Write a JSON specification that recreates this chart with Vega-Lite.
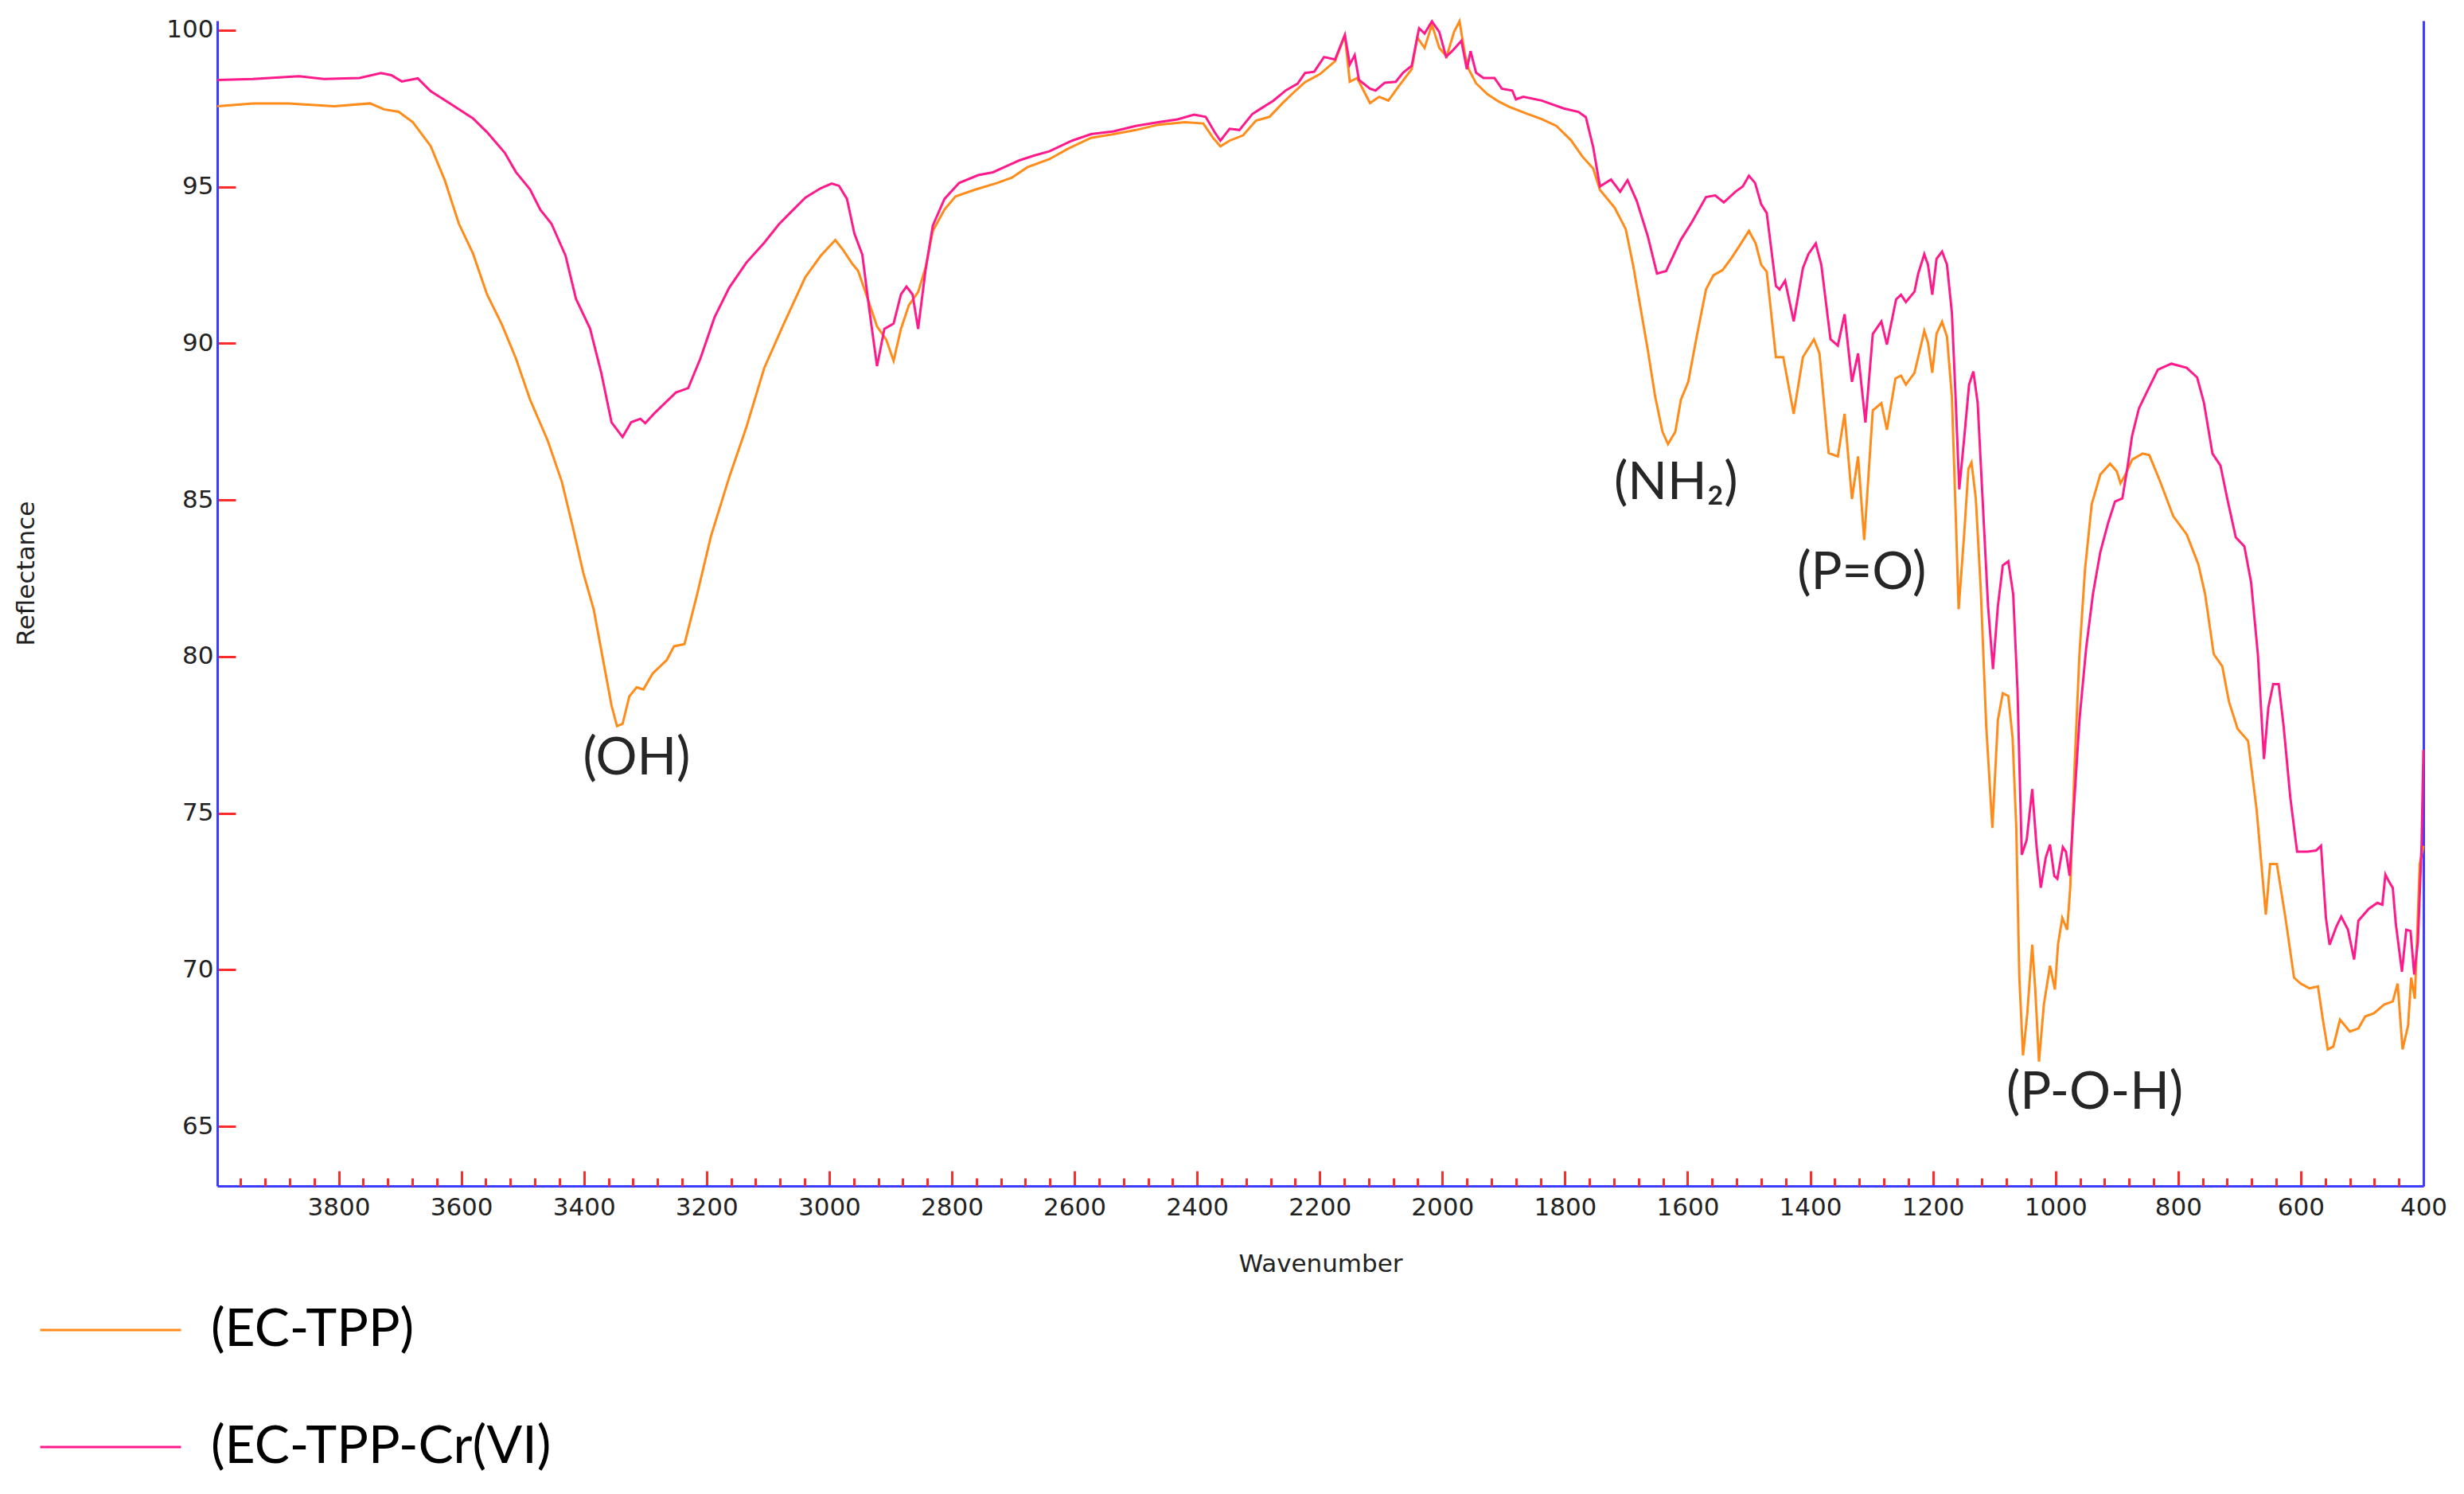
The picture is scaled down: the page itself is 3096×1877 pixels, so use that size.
{
  "$schema": "https://vega.github.io/schema/vega-lite/v6.json",
  "width": 2772,
  "height": 1464,
  "autosize": {"type": "none"},
  "padding": {"left": 273, "top": 26, "right": 51, "bottom": 387},
  "background": "white",
  "config": {"view": {"stroke": null}},
  "datasets": {
    "notes": [
      {"wavenumber": 3314, "reflectance": 76.75, "label": "(OH)"},
      {"wavenumber": 1619, "reflectance": 85.54, "label": "(NH₂)"},
      {"wavenumber": 1316, "reflectance": 82.67, "label": "(P=O)"},
      {"wavenumber": 936, "reflectance": 66.08, "label": "(P-O-H)"}
    ],
    "spectra": [
      {"sample": "(EC-TPP)", "wavenumber": 3998, "reflectance": 97.57},
      {"sample": "(EC-TPP)", "wavenumber": 3940, "reflectance": 97.66},
      {"sample": "(EC-TPP)", "wavenumber": 3882, "reflectance": 97.66},
      {"sample": "(EC-TPP)", "wavenumber": 3807, "reflectance": 97.57},
      {"sample": "(EC-TPP)", "wavenumber": 3749, "reflectance": 97.66},
      {"sample": "(EC-TPP)", "wavenumber": 3726, "reflectance": 97.47},
      {"sample": "(EC-TPP)", "wavenumber": 3702, "reflectance": 97.39},
      {"sample": "(EC-TPP)", "wavenumber": 3679, "reflectance": 97.06},
      {"sample": "(EC-TPP)", "wavenumber": 3650, "reflectance": 96.30},
      {"sample": "(EC-TPP)", "wavenumber": 3627, "reflectance": 95.21},
      {"sample": "(EC-TPP)", "wavenumber": 3604, "reflectance": 93.82},
      {"sample": "(EC-TPP)", "wavenumber": 3581, "reflectance": 92.87},
      {"sample": "(EC-TPP)", "wavenumber": 3558, "reflectance": 91.56},
      {"sample": "(EC-TPP)", "wavenumber": 3534, "reflectance": 90.61},
      {"sample": "(EC-TPP)", "wavenumber": 3511, "reflectance": 89.52},
      {"sample": "(EC-TPP)", "wavenumber": 3488, "reflectance": 88.21},
      {"sample": "(EC-TPP)", "wavenumber": 3459, "reflectance": 86.89},
      {"sample": "(EC-TPP)", "wavenumber": 3436, "reflectance": 85.58},
      {"sample": "(EC-TPP)", "wavenumber": 3418, "reflectance": 84.12},
      {"sample": "(EC-TPP)", "wavenumber": 3401, "reflectance": 82.67},
      {"sample": "(EC-TPP)", "wavenumber": 3384, "reflectance": 81.50},
      {"sample": "(EC-TPP)", "wavenumber": 3366, "reflectance": 79.60},
      {"sample": "(EC-TPP)", "wavenumber": 3355, "reflectance": 78.44},
      {"sample": "(EC-TPP)", "wavenumber": 3346, "reflectance": 77.78},
      {"sample": "(EC-TPP)", "wavenumber": 3337, "reflectance": 77.85},
      {"sample": "(EC-TPP)", "wavenumber": 3326, "reflectance": 78.73},
      {"sample": "(EC-TPP)", "wavenumber": 3314, "reflectance": 79.02},
      {"sample": "(EC-TPP)", "wavenumber": 3303, "reflectance": 78.95},
      {"sample": "(EC-TPP)", "wavenumber": 3288, "reflectance": 79.46},
      {"sample": "(EC-TPP)", "wavenumber": 3265, "reflectance": 79.89},
      {"sample": "(EC-TPP)", "wavenumber": 3253, "reflectance": 80.33},
      {"sample": "(EC-TPP)", "wavenumber": 3236, "reflectance": 80.40},
      {"sample": "(EC-TPP)", "wavenumber": 3216, "reflectance": 81.94},
      {"sample": "(EC-TPP)", "wavenumber": 3193, "reflectance": 83.83},
      {"sample": "(EC-TPP)", "wavenumber": 3163, "reflectance": 85.73},
      {"sample": "(EC-TPP)", "wavenumber": 3135, "reflectance": 87.33},
      {"sample": "(EC-TPP)", "wavenumber": 3106, "reflectance": 89.21},
      {"sample": "(EC-TPP)", "wavenumber": 3076, "reflectance": 90.54},
      {"sample": "(EC-TPP)", "wavenumber": 3039, "reflectance": 92.11},
      {"sample": "(EC-TPP)", "wavenumber": 3014, "reflectance": 92.79},
      {"sample": "(EC-TPP)", "wavenumber": 2990, "reflectance": 93.30},
      {"sample": "(EC-TPP)", "wavenumber": 2978, "reflectance": 93.00},
      {"sample": "(EC-TPP)", "wavenumber": 2962, "reflectance": 92.53},
      {"sample": "(EC-TPP)", "wavenumber": 2953, "reflectance": 92.32},
      {"sample": "(EC-TPP)", "wavenumber": 2941, "reflectance": 91.64},
      {"sample": "(EC-TPP)", "wavenumber": 2922, "reflectance": 90.54},
      {"sample": "(EC-TPP)", "wavenumber": 2907, "reflectance": 90.12},
      {"sample": "(EC-TPP)", "wavenumber": 2895, "reflectance": 89.44},
      {"sample": "(EC-TPP)", "wavenumber": 2883, "reflectance": 90.46},
      {"sample": "(EC-TPP)", "wavenumber": 2870, "reflectance": 91.22},
      {"sample": "(EC-TPP)", "wavenumber": 2855, "reflectance": 91.64},
      {"sample": "(EC-TPP)", "wavenumber": 2843, "reflectance": 92.41},
      {"sample": "(EC-TPP)", "wavenumber": 2831, "reflectance": 93.59},
      {"sample": "(EC-TPP)", "wavenumber": 2812, "reflectance": 94.27},
      {"sample": "(EC-TPP)", "wavenumber": 2794, "reflectance": 94.69},
      {"sample": "(EC-TPP)", "wavenumber": 2763, "reflectance": 94.90},
      {"sample": "(EC-TPP)", "wavenumber": 2726, "reflectance": 95.12},
      {"sample": "(EC-TPP)", "wavenumber": 2702, "reflectance": 95.29},
      {"sample": "(EC-TPP)", "wavenumber": 2677, "reflectance": 95.62},
      {"sample": "(EC-TPP)", "wavenumber": 2641, "reflectance": 95.88},
      {"sample": "(EC-TPP)", "wavenumber": 2610, "reflectance": 96.22},
      {"sample": "(EC-TPP)", "wavenumber": 2573, "reflectance": 96.56},
      {"sample": "(EC-TPP)", "wavenumber": 2536, "reflectance": 96.68},
      {"sample": "(EC-TPP)", "wavenumber": 2500, "reflectance": 96.81},
      {"sample": "(EC-TPP)", "wavenumber": 2463, "reflectance": 96.98},
      {"sample": "(EC-TPP)", "wavenumber": 2420, "reflectance": 97.06},
      {"sample": "(EC-TPP)", "wavenumber": 2390, "reflectance": 97.02},
      {"sample": "(EC-TPP)", "wavenumber": 2374, "reflectance": 96.56},
      {"sample": "(EC-TPP)", "wavenumber": 2362, "reflectance": 96.29},
      {"sample": "(EC-TPP)", "wavenumber": 2347, "reflectance": 96.47},
      {"sample": "(EC-TPP)", "wavenumber": 2325, "reflectance": 96.64},
      {"sample": "(EC-TPP)", "wavenumber": 2304, "reflectance": 97.11},
      {"sample": "(EC-TPP)", "wavenumber": 2282, "reflectance": 97.23},
      {"sample": "(EC-TPP)", "wavenumber": 2261, "reflectance": 97.66},
      {"sample": "(EC-TPP)", "wavenumber": 2243, "reflectance": 98.00},
      {"sample": "(EC-TPP)", "wavenumber": 2224, "reflectance": 98.34},
      {"sample": "(EC-TPP)", "wavenumber": 2200, "reflectance": 98.59},
      {"sample": "(EC-TPP)", "wavenumber": 2175, "reflectance": 99.01},
      {"sample": "(EC-TPP)", "wavenumber": 2159, "reflectance": 99.83},
      {"sample": "(EC-TPP)", "wavenumber": 2151, "reflectance": 98.35},
      {"sample": "(EC-TPP)", "wavenumber": 2139, "reflectance": 98.47},
      {"sample": "(EC-TPP)", "wavenumber": 2118, "reflectance": 97.67},
      {"sample": "(EC-TPP)", "wavenumber": 2103, "reflectance": 97.87},
      {"sample": "(EC-TPP)", "wavenumber": 2088, "reflectance": 97.75},
      {"sample": "(EC-TPP)", "wavenumber": 2070, "reflectance": 98.24},
      {"sample": "(EC-TPP)", "wavenumber": 2050, "reflectance": 98.75},
      {"sample": "(EC-TPP)", "wavenumber": 2041, "reflectance": 99.77},
      {"sample": "(EC-TPP)", "wavenumber": 2029, "reflectance": 99.43},
      {"sample": "(EC-TPP)", "wavenumber": 2017, "reflectance": 100.17},
      {"sample": "(EC-TPP)", "wavenumber": 2005, "reflectance": 99.43},
      {"sample": "(EC-TPP)", "wavenumber": 1993, "reflectance": 99.15},
      {"sample": "(EC-TPP)", "wavenumber": 1981, "reflectance": 99.94},
      {"sample": "(EC-TPP)", "wavenumber": 1972, "reflectance": 100.28},
      {"sample": "(EC-TPP)", "wavenumber": 1963, "reflectance": 99.20},
      {"sample": "(EC-TPP)", "wavenumber": 1957, "reflectance": 98.75},
      {"sample": "(EC-TPP)", "wavenumber": 1945, "reflectance": 98.30},
      {"sample": "(EC-TPP)", "wavenumber": 1927, "reflectance": 97.96},
      {"sample": "(EC-TPP)", "wavenumber": 1909, "reflectance": 97.73},
      {"sample": "(EC-TPP)", "wavenumber": 1892, "reflectance": 97.56},
      {"sample": "(EC-TPP)", "wavenumber": 1862, "reflectance": 97.33},
      {"sample": "(EC-TPP)", "wavenumber": 1838, "reflectance": 97.16},
      {"sample": "(EC-TPP)", "wavenumber": 1814, "reflectance": 96.94},
      {"sample": "(EC-TPP)", "wavenumber": 1790, "reflectance": 96.48},
      {"sample": "(EC-TPP)", "wavenumber": 1772, "reflectance": 95.97},
      {"sample": "(EC-TPP)", "wavenumber": 1754, "reflectance": 95.58},
      {"sample": "(EC-TPP)", "wavenumber": 1743, "reflectance": 94.90},
      {"sample": "(EC-TPP)", "wavenumber": 1719, "reflectance": 94.33},
      {"sample": "(EC-TPP)", "wavenumber": 1701, "reflectance": 93.65},
      {"sample": "(EC-TPP)", "wavenumber": 1689, "reflectance": 92.51},
      {"sample": "(EC-TPP)", "wavenumber": 1677, "reflectance": 91.15},
      {"sample": "(EC-TPP)", "wavenumber": 1665, "reflectance": 89.79},
      {"sample": "(EC-TPP)", "wavenumber": 1653, "reflectance": 88.31},
      {"sample": "(EC-TPP)", "wavenumber": 1641, "reflectance": 87.18},
      {"sample": "(EC-TPP)", "wavenumber": 1632, "reflectance": 86.78},
      {"sample": "(EC-TPP)", "wavenumber": 1620, "reflectance": 87.18},
      {"sample": "(EC-TPP)", "wavenumber": 1611, "reflectance": 88.20},
      {"sample": "(EC-TPP)", "wavenumber": 1599, "reflectance": 88.77},
      {"sample": "(EC-TPP)", "wavenumber": 1585, "reflectance": 90.24},
      {"sample": "(EC-TPP)", "wavenumber": 1570, "reflectance": 91.72},
      {"sample": "(EC-TPP)", "wavenumber": 1558, "reflectance": 92.17},
      {"sample": "(EC-TPP)", "wavenumber": 1543, "reflectance": 92.34},
      {"sample": "(EC-TPP)", "wavenumber": 1528, "reflectance": 92.74},
      {"sample": "(EC-TPP)", "wavenumber": 1513, "reflectance": 93.19},
      {"sample": "(EC-TPP)", "wavenumber": 1500, "reflectance": 93.59},
      {"sample": "(EC-TPP)", "wavenumber": 1489, "reflectance": 93.19},
      {"sample": "(EC-TPP)", "wavenumber": 1480, "reflectance": 92.51},
      {"sample": "(EC-TPP)", "wavenumber": 1471, "reflectance": 92.29},
      {"sample": "(EC-TPP)", "wavenumber": 1456, "reflectance": 89.56},
      {"sample": "(EC-TPP)", "wavenumber": 1444, "reflectance": 89.56},
      {"sample": "(EC-TPP)", "wavenumber": 1427, "reflectance": 87.75},
      {"sample": "(EC-TPP)", "wavenumber": 1412, "reflectance": 89.56},
      {"sample": "(EC-TPP)", "wavenumber": 1394, "reflectance": 90.13},
      {"sample": "(EC-TPP)", "wavenumber": 1385, "reflectance": 89.68},
      {"sample": "(EC-TPP)", "wavenumber": 1370, "reflectance": 86.50},
      {"sample": "(EC-TPP)", "wavenumber": 1355, "reflectance": 86.39},
      {"sample": "(EC-TPP)", "wavenumber": 1344, "reflectance": 87.75},
      {"sample": "(EC-TPP)", "wavenumber": 1332, "reflectance": 85.03},
      {"sample": "(EC-TPP)", "wavenumber": 1322, "reflectance": 86.39},
      {"sample": "(EC-TPP)", "wavenumber": 1312, "reflectance": 83.72},
      {"sample": "(EC-TPP)", "wavenumber": 1298, "reflectance": 87.86},
      {"sample": "(EC-TPP)", "wavenumber": 1284, "reflectance": 88.09},
      {"sample": "(EC-TPP)", "wavenumber": 1275, "reflectance": 87.24},
      {"sample": "(EC-TPP)", "wavenumber": 1261, "reflectance": 88.88},
      {"sample": "(EC-TPP)", "wavenumber": 1252, "reflectance": 88.97},
      {"sample": "(EC-TPP)", "wavenumber": 1244, "reflectance": 88.68},
      {"sample": "(EC-TPP)", "wavenumber": 1230, "reflectance": 89.06},
      {"sample": "(EC-TPP)", "wavenumber": 1223, "reflectance": 89.64},
      {"sample": "(EC-TPP)", "wavenumber": 1214, "reflectance": 90.40},
      {"sample": "(EC-TPP)", "wavenumber": 1208, "reflectance": 90.02},
      {"sample": "(EC-TPP)", "wavenumber": 1201, "reflectance": 89.06},
      {"sample": "(EC-TPP)", "wavenumber": 1194, "reflectance": 90.31},
      {"sample": "(EC-TPP)", "wavenumber": 1185, "reflectance": 90.69},
      {"sample": "(EC-TPP)", "wavenumber": 1177, "reflectance": 90.21},
      {"sample": "(EC-TPP)", "wavenumber": 1169, "reflectance": 88.30},
      {"sample": "(EC-TPP)", "wavenumber": 1163, "reflectance": 84.67},
      {"sample": "(EC-TPP)", "wavenumber": 1158, "reflectance": 81.51},
      {"sample": "(EC-TPP)", "wavenumber": 1149, "reflectance": 83.90},
      {"sample": "(EC-TPP)", "wavenumber": 1142, "reflectance": 86.00},
      {"sample": "(EC-TPP)", "wavenumber": 1137, "reflectance": 86.20},
      {"sample": "(EC-TPP)", "wavenumber": 1130, "reflectance": 85.05},
      {"sample": "(EC-TPP)", "wavenumber": 1122, "reflectance": 82.18},
      {"sample": "(EC-TPP)", "wavenumber": 1113, "reflectance": 77.78},
      {"sample": "(EC-TPP)", "wavenumber": 1103, "reflectance": 74.53},
      {"sample": "(EC-TPP)", "wavenumber": 1094, "reflectance": 77.97},
      {"sample": "(EC-TPP)", "wavenumber": 1086, "reflectance": 78.83},
      {"sample": "(EC-TPP)", "wavenumber": 1077, "reflectance": 78.74},
      {"sample": "(EC-TPP)", "wavenumber": 1070, "reflectance": 77.40},
      {"sample": "(EC-TPP)", "wavenumber": 1064, "reflectance": 74.53},
      {"sample": "(EC-TPP)", "wavenumber": 1059, "reflectance": 69.75},
      {"sample": "(EC-TPP)", "wavenumber": 1053, "reflectance": 67.27},
      {"sample": "(EC-TPP)", "wavenumber": 1046, "reflectance": 68.61},
      {"sample": "(EC-TPP)", "wavenumber": 1038, "reflectance": 70.80},
      {"sample": "(EC-TPP)", "wavenumber": 1033, "reflectance": 69.37},
      {"sample": "(EC-TPP)", "wavenumber": 1027, "reflectance": 67.07},
      {"sample": "(EC-TPP)", "wavenumber": 1019, "reflectance": 68.89},
      {"sample": "(EC-TPP)", "wavenumber": 1009, "reflectance": 70.13},
      {"sample": "(EC-TPP)", "wavenumber": 1001, "reflectance": 69.37},
      {"sample": "(EC-TPP)", "wavenumber": 996, "reflectance": 70.80},
      {"sample": "(EC-TPP)", "wavenumber": 989, "reflectance": 71.66},
      {"sample": "(EC-TPP)", "wavenumber": 981, "reflectance": 71.28},
      {"sample": "(EC-TPP)", "wavenumber": 976, "reflectance": 72.62},
      {"sample": "(EC-TPP)", "wavenumber": 969, "reflectance": 76.44},
      {"sample": "(EC-TPP)", "wavenumber": 961, "reflectance": 80.08},
      {"sample": "(EC-TPP)", "wavenumber": 952, "reflectance": 82.75},
      {"sample": "(EC-TPP)", "wavenumber": 941, "reflectance": 84.86},
      {"sample": "(EC-TPP)", "wavenumber": 927, "reflectance": 85.81},
      {"sample": "(EC-TPP)", "wavenumber": 911, "reflectance": 86.16},
      {"sample": "(EC-TPP)", "wavenumber": 900, "reflectance": 85.91},
      {"sample": "(EC-TPP)", "wavenumber": 894, "reflectance": 85.53},
      {"sample": "(EC-TPP)", "wavenumber": 886, "reflectance": 85.81},
      {"sample": "(EC-TPP)", "wavenumber": 875, "reflectance": 86.29},
      {"sample": "(EC-TPP)", "wavenumber": 858, "reflectance": 86.48},
      {"sample": "(EC-TPP)", "wavenumber": 847, "reflectance": 86.43},
      {"sample": "(EC-TPP)", "wavenumber": 830, "reflectance": 85.62},
      {"sample": "(EC-TPP)", "wavenumber": 808, "reflectance": 84.48},
      {"sample": "(EC-TPP)", "wavenumber": 786, "reflectance": 83.90},
      {"sample": "(EC-TPP)", "wavenumber": 767, "reflectance": 82.94},
      {"sample": "(EC-TPP)", "wavenumber": 756, "reflectance": 81.99},
      {"sample": "(EC-TPP)", "wavenumber": 742, "reflectance": 80.08},
      {"sample": "(EC-TPP)", "wavenumber": 728, "reflectance": 79.69},
      {"sample": "(EC-TPP)", "wavenumber": 717, "reflectance": 78.55},
      {"sample": "(EC-TPP)", "wavenumber": 703, "reflectance": 77.69},
      {"sample": "(EC-TPP)", "wavenumber": 686, "reflectance": 77.31},
      {"sample": "(EC-TPP)", "wavenumber": 672, "reflectance": 75.11},
      {"sample": "(EC-TPP)", "wavenumber": 657, "reflectance": 71.76},
      {"sample": "(EC-TPP)", "wavenumber": 650, "reflectance": 73.38},
      {"sample": "(EC-TPP)", "wavenumber": 639, "reflectance": 73.38},
      {"sample": "(EC-TPP)", "wavenumber": 625, "reflectance": 71.66},
      {"sample": "(EC-TPP)", "wavenumber": 611, "reflectance": 69.75},
      {"sample": "(EC-TPP)", "wavenumber": 600, "reflectance": 69.56},
      {"sample": "(EC-TPP)", "wavenumber": 586, "reflectance": 69.41},
      {"sample": "(EC-TPP)", "wavenumber": 572, "reflectance": 69.47},
      {"sample": "(EC-TPP)", "wavenumber": 564, "reflectance": 68.41},
      {"sample": "(EC-TPP)", "wavenumber": 556, "reflectance": 67.46},
      {"sample": "(EC-TPP)", "wavenumber": 547, "reflectance": 67.55},
      {"sample": "(EC-TPP)", "wavenumber": 536, "reflectance": 68.41},
      {"sample": "(EC-TPP)", "wavenumber": 520, "reflectance": 68.03},
      {"sample": "(EC-TPP)", "wavenumber": 506, "reflectance": 68.13},
      {"sample": "(EC-TPP)", "wavenumber": 495, "reflectance": 68.51},
      {"sample": "(EC-TPP)", "wavenumber": 481, "reflectance": 68.61},
      {"sample": "(EC-TPP)", "wavenumber": 464, "reflectance": 68.89},
      {"sample": "(EC-TPP)", "wavenumber": 450, "reflectance": 68.99},
      {"sample": "(EC-TPP)", "wavenumber": 442, "reflectance": 69.56},
      {"sample": "(EC-TPP)", "wavenumber": 434, "reflectance": 67.46},
      {"sample": "(EC-TPP)", "wavenumber": 425, "reflectance": 68.22},
      {"sample": "(EC-TPP)", "wavenumber": 420, "reflectance": 69.75},
      {"sample": "(EC-TPP)", "wavenumber": 414, "reflectance": 69.08},
      {"sample": "(EC-TPP)", "wavenumber": 406, "reflectance": 73.38},
      {"sample": "(EC-TPP)", "wavenumber": 400, "reflectance": 73.96},
      {"sample": "(EC-TPP-Cr(VI)", "wavenumber": 3998, "reflectance": 98.41},
      {"sample": "(EC-TPP-Cr(VI)", "wavenumber": 3940, "reflectance": 98.44},
      {"sample": "(EC-TPP-Cr(VI)", "wavenumber": 3865, "reflectance": 98.53},
      {"sample": "(EC-TPP-Cr(VI)", "wavenumber": 3824, "reflectance": 98.44},
      {"sample": "(EC-TPP-Cr(VI)", "wavenumber": 3766, "reflectance": 98.47},
      {"sample": "(EC-TPP-Cr(VI)", "wavenumber": 3731, "reflectance": 98.63},
      {"sample": "(EC-TPP-Cr(VI)", "wavenumber": 3714, "reflectance": 98.56},
      {"sample": "(EC-TPP-Cr(VI)", "wavenumber": 3697, "reflectance": 98.36},
      {"sample": "(EC-TPP-Cr(VI)", "wavenumber": 3671, "reflectance": 98.46},
      {"sample": "(EC-TPP-Cr(VI)", "wavenumber": 3650, "reflectance": 98.05},
      {"sample": "(EC-TPP-Cr(VI)", "wavenumber": 3621, "reflectance": 97.69},
      {"sample": "(EC-TPP-Cr(VI)", "wavenumber": 3581, "reflectance": 97.18},
      {"sample": "(EC-TPP-Cr(VI)", "wavenumber": 3558, "reflectance": 96.74},
      {"sample": "(EC-TPP-Cr(VI)", "wavenumber": 3529, "reflectance": 96.08},
      {"sample": "(EC-TPP-Cr(VI)", "wavenumber": 3511, "reflectance": 95.47},
      {"sample": "(EC-TPP-Cr(VI)", "wavenumber": 3488, "reflectance": 94.92},
      {"sample": "(EC-TPP-Cr(VI)", "wavenumber": 3471, "reflectance": 94.26},
      {"sample": "(EC-TPP-Cr(VI)", "wavenumber": 3453, "reflectance": 93.82},
      {"sample": "(EC-TPP-Cr(VI)", "wavenumber": 3430, "reflectance": 92.80},
      {"sample": "(EC-TPP-Cr(VI)", "wavenumber": 3413, "reflectance": 91.42},
      {"sample": "(EC-TPP-Cr(VI)", "wavenumber": 3390, "reflectance": 90.47},
      {"sample": "(EC-TPP-Cr(VI)", "wavenumber": 3372, "reflectance": 89.08},
      {"sample": "(EC-TPP-Cr(VI)", "wavenumber": 3355, "reflectance": 87.48},
      {"sample": "(EC-TPP-Cr(VI)", "wavenumber": 3337, "reflectance": 87.01},
      {"sample": "(EC-TPP-Cr(VI)", "wavenumber": 3323, "reflectance": 87.48},
      {"sample": "(EC-TPP-Cr(VI)", "wavenumber": 3308, "reflectance": 87.59},
      {"sample": "(EC-TPP-Cr(VI)", "wavenumber": 3300, "reflectance": 87.45},
      {"sample": "(EC-TPP-Cr(VI)", "wavenumber": 3285, "reflectance": 87.77},
      {"sample": "(EC-TPP-Cr(VI)", "wavenumber": 3250, "reflectance": 88.43},
      {"sample": "(EC-TPP-Cr(VI)", "wavenumber": 3230, "reflectance": 88.57},
      {"sample": "(EC-TPP-Cr(VI)", "wavenumber": 3210, "reflectance": 89.52},
      {"sample": "(EC-TPP-Cr(VI)", "wavenumber": 3187, "reflectance": 90.83},
      {"sample": "(EC-TPP-Cr(VI)", "wavenumber": 3163, "reflectance": 91.78},
      {"sample": "(EC-TPP-Cr(VI)", "wavenumber": 3135, "reflectance": 92.58},
      {"sample": "(EC-TPP-Cr(VI)", "wavenumber": 3106, "reflectance": 93.21},
      {"sample": "(EC-TPP-Cr(VI)", "wavenumber": 3082, "reflectance": 93.80},
      {"sample": "(EC-TPP-Cr(VI)", "wavenumber": 3063, "reflectance": 94.18},
      {"sample": "(EC-TPP-Cr(VI)", "wavenumber": 3039, "reflectance": 94.65},
      {"sample": "(EC-TPP-Cr(VI)", "wavenumber": 3014, "reflectance": 94.95},
      {"sample": "(EC-TPP-Cr(VI)", "wavenumber": 2996, "reflectance": 95.10},
      {"sample": "(EC-TPP-Cr(VI)", "wavenumber": 2984, "reflectance": 95.03},
      {"sample": "(EC-TPP-Cr(VI)", "wavenumber": 2971, "reflectance": 94.61},
      {"sample": "(EC-TPP-Cr(VI)", "wavenumber": 2959, "reflectance": 93.51},
      {"sample": "(EC-TPP-Cr(VI)", "wavenumber": 2946, "reflectance": 92.83},
      {"sample": "(EC-TPP-Cr(VI)", "wavenumber": 2935, "reflectance": 91.14},
      {"sample": "(EC-TPP-Cr(VI)", "wavenumber": 2922, "reflectance": 89.27},
      {"sample": "(EC-TPP-Cr(VI)", "wavenumber": 2910, "reflectance": 90.46},
      {"sample": "(EC-TPP-Cr(VI)", "wavenumber": 2895, "reflectance": 90.63},
      {"sample": "(EC-TPP-Cr(VI)", "wavenumber": 2883, "reflectance": 91.56},
      {"sample": "(EC-TPP-Cr(VI)", "wavenumber": 2874, "reflectance": 91.81},
      {"sample": "(EC-TPP-Cr(VI)", "wavenumber": 2864, "reflectance": 91.56},
      {"sample": "(EC-TPP-Cr(VI)", "wavenumber": 2855, "reflectance": 90.46},
      {"sample": "(EC-TPP-Cr(VI)", "wavenumber": 2843, "reflectance": 92.32},
      {"sample": "(EC-TPP-Cr(VI)", "wavenumber": 2831, "reflectance": 93.76},
      {"sample": "(EC-TPP-Cr(VI)", "wavenumber": 2812, "reflectance": 94.61},
      {"sample": "(EC-TPP-Cr(VI)", "wavenumber": 2788, "reflectance": 95.12},
      {"sample": "(EC-TPP-Cr(VI)", "wavenumber": 2757, "reflectance": 95.37},
      {"sample": "(EC-TPP-Cr(VI)", "wavenumber": 2733, "reflectance": 95.46},
      {"sample": "(EC-TPP-Cr(VI)", "wavenumber": 2690, "reflectance": 95.84},
      {"sample": "(EC-TPP-Cr(VI)", "wavenumber": 2665, "reflectance": 96.00},
      {"sample": "(EC-TPP-Cr(VI)", "wavenumber": 2641, "reflectance": 96.13},
      {"sample": "(EC-TPP-Cr(VI)", "wavenumber": 2604, "reflectance": 96.47},
      {"sample": "(EC-TPP-Cr(VI)", "wavenumber": 2573, "reflectance": 96.68},
      {"sample": "(EC-TPP-Cr(VI)", "wavenumber": 2536, "reflectance": 96.77},
      {"sample": "(EC-TPP-Cr(VI)", "wavenumber": 2500, "reflectance": 96.94},
      {"sample": "(EC-TPP-Cr(VI)", "wavenumber": 2463, "reflectance": 97.06},
      {"sample": "(EC-TPP-Cr(VI)", "wavenumber": 2432, "reflectance": 97.15},
      {"sample": "(EC-TPP-Cr(VI)", "wavenumber": 2405, "reflectance": 97.30},
      {"sample": "(EC-TPP-Cr(VI)", "wavenumber": 2386, "reflectance": 97.23},
      {"sample": "(EC-TPP-Cr(VI)", "wavenumber": 2371, "reflectance": 96.73},
      {"sample": "(EC-TPP-Cr(VI)", "wavenumber": 2362, "reflectance": 96.47},
      {"sample": "(EC-TPP-Cr(VI)", "wavenumber": 2347, "reflectance": 96.85},
      {"sample": "(EC-TPP-Cr(VI)", "wavenumber": 2331, "reflectance": 96.81},
      {"sample": "(EC-TPP-Cr(VI)", "wavenumber": 2310, "reflectance": 97.32},
      {"sample": "(EC-TPP-Cr(VI)", "wavenumber": 2298, "reflectance": 97.47},
      {"sample": "(EC-TPP-Cr(VI)", "wavenumber": 2276, "reflectance": 97.74},
      {"sample": "(EC-TPP-Cr(VI)", "wavenumber": 2255, "reflectance": 98.08},
      {"sample": "(EC-TPP-Cr(VI)", "wavenumber": 2236, "reflectance": 98.29},
      {"sample": "(EC-TPP-Cr(VI)", "wavenumber": 2224, "reflectance": 98.63},
      {"sample": "(EC-TPP-Cr(VI)", "wavenumber": 2209, "reflectance": 98.67},
      {"sample": "(EC-TPP-Cr(VI)", "wavenumber": 2193, "reflectance": 99.14},
      {"sample": "(EC-TPP-Cr(VI)", "wavenumber": 2175, "reflectance": 99.06},
      {"sample": "(EC-TPP-Cr(VI)", "wavenumber": 2159, "reflectance": 99.85},
      {"sample": "(EC-TPP-Cr(VI)", "wavenumber": 2151, "reflectance": 98.90},
      {"sample": "(EC-TPP-Cr(VI)", "wavenumber": 2143, "reflectance": 99.20},
      {"sample": "(EC-TPP-Cr(VI)", "wavenumber": 2136, "reflectance": 98.41},
      {"sample": "(EC-TPP-Cr(VI)", "wavenumber": 2118, "reflectance": 98.13},
      {"sample": "(EC-TPP-Cr(VI)", "wavenumber": 2109, "reflectance": 98.07},
      {"sample": "(EC-TPP-Cr(VI)", "wavenumber": 2094, "reflectance": 98.32},
      {"sample": "(EC-TPP-Cr(VI)", "wavenumber": 2076, "reflectance": 98.35},
      {"sample": "(EC-TPP-Cr(VI)", "wavenumber": 2064, "reflectance": 98.64},
      {"sample": "(EC-TPP-Cr(VI)", "wavenumber": 2050, "reflectance": 98.86},
      {"sample": "(EC-TPP-Cr(VI)", "wavenumber": 2038, "reflectance": 100.06},
      {"sample": "(EC-TPP-Cr(VI)", "wavenumber": 2029, "reflectance": 99.89},
      {"sample": "(EC-TPP-Cr(VI)", "wavenumber": 2017, "reflectance": 100.28},
      {"sample": "(EC-TPP-Cr(VI)", "wavenumber": 2005, "reflectance": 99.94},
      {"sample": "(EC-TPP-Cr(VI)", "wavenumber": 1994, "reflectance": 99.15},
      {"sample": "(EC-TPP-Cr(VI)", "wavenumber": 1984, "reflectance": 99.33},
      {"sample": "(EC-TPP-Cr(VI)", "wavenumber": 1969, "reflectance": 99.66},
      {"sample": "(EC-TPP-Cr(VI)", "wavenumber": 1960, "reflectance": 98.75},
      {"sample": "(EC-TPP-Cr(VI)", "wavenumber": 1954, "reflectance": 99.33},
      {"sample": "(EC-TPP-Cr(VI)", "wavenumber": 1945, "reflectance": 98.64},
      {"sample": "(EC-TPP-Cr(VI)", "wavenumber": 1933, "reflectance": 98.47},
      {"sample": "(EC-TPP-Cr(VI)", "wavenumber": 1915, "reflectance": 98.47},
      {"sample": "(EC-TPP-Cr(VI)", "wavenumber": 1903, "reflectance": 98.13},
      {"sample": "(EC-TPP-Cr(VI)", "wavenumber": 1886, "reflectance": 98.07},
      {"sample": "(EC-TPP-Cr(VI)", "wavenumber": 1880, "reflectance": 97.79},
      {"sample": "(EC-TPP-Cr(VI)", "wavenumber": 1868, "reflectance": 97.87},
      {"sample": "(EC-TPP-Cr(VI)", "wavenumber": 1838, "reflectance": 97.75},
      {"sample": "(EC-TPP-Cr(VI)", "wavenumber": 1802, "reflectance": 97.50},
      {"sample": "(EC-TPP-Cr(VI)", "wavenumber": 1778, "reflectance": 97.39},
      {"sample": "(EC-TPP-Cr(VI)", "wavenumber": 1766, "reflectance": 97.22},
      {"sample": "(EC-TPP-Cr(VI)", "wavenumber": 1754, "reflectance": 96.26},
      {"sample": "(EC-TPP-Cr(VI)", "wavenumber": 1743, "reflectance": 95.01},
      {"sample": "(EC-TPP-Cr(VI)", "wavenumber": 1725, "reflectance": 95.23},
      {"sample": "(EC-TPP-Cr(VI)", "wavenumber": 1710, "reflectance": 94.84},
      {"sample": "(EC-TPP-Cr(VI)", "wavenumber": 1698, "reflectance": 95.21},
      {"sample": "(EC-TPP-Cr(VI)", "wavenumber": 1683, "reflectance": 94.55},
      {"sample": "(EC-TPP-Cr(VI)", "wavenumber": 1665, "reflectance": 93.42},
      {"sample": "(EC-TPP-Cr(VI)", "wavenumber": 1650, "reflectance": 92.23},
      {"sample": "(EC-TPP-Cr(VI)", "wavenumber": 1635, "reflectance": 92.31},
      {"sample": "(EC-TPP-Cr(VI)", "wavenumber": 1611, "reflectance": 93.31},
      {"sample": "(EC-TPP-Cr(VI)", "wavenumber": 1593, "reflectance": 93.87},
      {"sample": "(EC-TPP-Cr(VI)", "wavenumber": 1570, "reflectance": 94.67},
      {"sample": "(EC-TPP-Cr(VI)", "wavenumber": 1555, "reflectance": 94.72},
      {"sample": "(EC-TPP-Cr(VI)", "wavenumber": 1541, "reflectance": 94.50},
      {"sample": "(EC-TPP-Cr(VI)", "wavenumber": 1522, "reflectance": 94.84},
      {"sample": "(EC-TPP-Cr(VI)", "wavenumber": 1510, "reflectance": 95.01},
      {"sample": "(EC-TPP-Cr(VI)", "wavenumber": 1500, "reflectance": 95.35},
      {"sample": "(EC-TPP-Cr(VI)", "wavenumber": 1490, "reflectance": 95.12},
      {"sample": "(EC-TPP-Cr(VI)", "wavenumber": 1480, "reflectance": 94.44},
      {"sample": "(EC-TPP-Cr(VI)", "wavenumber": 1471, "reflectance": 94.16},
      {"sample": "(EC-TPP-Cr(VI)", "wavenumber": 1456, "reflectance": 91.83},
      {"sample": "(EC-TPP-Cr(VI)", "wavenumber": 1450, "reflectance": 91.72},
      {"sample": "(EC-TPP-Cr(VI)", "wavenumber": 1441, "reflectance": 92.00},
      {"sample": "(EC-TPP-Cr(VI)", "wavenumber": 1427, "reflectance": 90.70},
      {"sample": "(EC-TPP-Cr(VI)", "wavenumber": 1412, "reflectance": 92.40},
      {"sample": "(EC-TPP-Cr(VI)", "wavenumber": 1403, "reflectance": 92.85},
      {"sample": "(EC-TPP-Cr(VI)", "wavenumber": 1391, "reflectance": 93.19},
      {"sample": "(EC-TPP-Cr(VI)", "wavenumber": 1382, "reflectance": 92.51},
      {"sample": "(EC-TPP-Cr(VI)", "wavenumber": 1367, "reflectance": 90.13},
      {"sample": "(EC-TPP-Cr(VI)", "wavenumber": 1355, "reflectance": 89.93},
      {"sample": "(EC-TPP-Cr(VI)", "wavenumber": 1344, "reflectance": 90.93},
      {"sample": "(EC-TPP-Cr(VI)", "wavenumber": 1332, "reflectance": 88.77},
      {"sample": "(EC-TPP-Cr(VI)", "wavenumber": 1322, "reflectance": 89.68},
      {"sample": "(EC-TPP-Cr(VI)", "wavenumber": 1310, "reflectance": 87.47},
      {"sample": "(EC-TPP-Cr(VI)", "wavenumber": 1298, "reflectance": 90.30},
      {"sample": "(EC-TPP-Cr(VI)", "wavenumber": 1284, "reflectance": 90.70},
      {"sample": "(EC-TPP-Cr(VI)", "wavenumber": 1275, "reflectance": 89.96},
      {"sample": "(EC-TPP-Cr(VI)", "wavenumber": 1260, "reflectance": 91.40},
      {"sample": "(EC-TPP-Cr(VI)", "wavenumber": 1252, "reflectance": 91.55},
      {"sample": "(EC-TPP-Cr(VI)", "wavenumber": 1244, "reflectance": 91.32},
      {"sample": "(EC-TPP-Cr(VI)", "wavenumber": 1230, "reflectance": 91.65},
      {"sample": "(EC-TPP-Cr(VI)", "wavenumber": 1224, "reflectance": 92.22},
      {"sample": "(EC-TPP-Cr(VI)", "wavenumber": 1214, "reflectance": 92.85},
      {"sample": "(EC-TPP-Cr(VI)", "wavenumber": 1208, "reflectance": 92.51},
      {"sample": "(EC-TPP-Cr(VI)", "wavenumber": 1201, "reflectance": 91.55},
      {"sample": "(EC-TPP-Cr(VI)", "wavenumber": 1194, "reflectance": 92.70},
      {"sample": "(EC-TPP-Cr(VI)", "wavenumber": 1185, "reflectance": 92.93},
      {"sample": "(EC-TPP-Cr(VI)", "wavenumber": 1177, "reflectance": 92.51},
      {"sample": "(EC-TPP-Cr(VI)", "wavenumber": 1169, "reflectance": 90.98},
      {"sample": "(EC-TPP-Cr(VI)", "wavenumber": 1163, "reflectance": 88.30},
      {"sample": "(EC-TPP-Cr(VI)", "wavenumber": 1157, "reflectance": 85.34},
      {"sample": "(EC-TPP-Cr(VI)", "wavenumber": 1149, "reflectance": 86.96},
      {"sample": "(EC-TPP-Cr(VI)", "wavenumber": 1141, "reflectance": 88.68},
      {"sample": "(EC-TPP-Cr(VI)", "wavenumber": 1134, "reflectance": 89.10},
      {"sample": "(EC-TPP-Cr(VI)", "wavenumber": 1127, "reflectance": 88.11},
      {"sample": "(EC-TPP-Cr(VI)", "wavenumber": 1119, "reflectance": 85.05},
      {"sample": "(EC-TPP-Cr(VI)", "wavenumber": 1110, "reflectance": 81.61},
      {"sample": "(EC-TPP-Cr(VI)", "wavenumber": 1102, "reflectance": 79.60},
      {"sample": "(EC-TPP-Cr(VI)", "wavenumber": 1094, "reflectance": 81.61},
      {"sample": "(EC-TPP-Cr(VI)", "wavenumber": 1086, "reflectance": 82.91},
      {"sample": "(EC-TPP-Cr(VI)", "wavenumber": 1077, "reflectance": 83.04},
      {"sample": "(EC-TPP-Cr(VI)", "wavenumber": 1069, "reflectance": 81.99},
      {"sample": "(EC-TPP-Cr(VI)", "wavenumber": 1062, "reflectance": 78.93},
      {"sample": "(EC-TPP-Cr(VI)", "wavenumber": 1055, "reflectance": 73.67},
      {"sample": "(EC-TPP-Cr(VI)", "wavenumber": 1047, "reflectance": 74.15},
      {"sample": "(EC-TPP-Cr(VI)", "wavenumber": 1038, "reflectance": 75.77},
      {"sample": "(EC-TPP-Cr(VI)", "wavenumber": 1031, "reflectance": 73.96},
      {"sample": "(EC-TPP-Cr(VI)", "wavenumber": 1024, "reflectance": 72.62},
      {"sample": "(EC-TPP-Cr(VI)", "wavenumber": 1016, "reflectance": 73.58},
      {"sample": "(EC-TPP-Cr(VI)", "wavenumber": 1009, "reflectance": 74.00},
      {"sample": "(EC-TPP-Cr(VI)", "wavenumber": 1002, "reflectance": 73.00},
      {"sample": "(EC-TPP-Cr(VI)", "wavenumber": 997, "reflectance": 72.91},
      {"sample": "(EC-TPP-Cr(VI)", "wavenumber": 988, "reflectance": 73.92},
      {"sample": "(EC-TPP-Cr(VI)", "wavenumber": 983, "reflectance": 73.77},
      {"sample": "(EC-TPP-Cr(VI)", "wavenumber": 977, "reflectance": 73.00},
      {"sample": "(EC-TPP-Cr(VI)", "wavenumber": 969, "reflectance": 75.49},
      {"sample": "(EC-TPP-Cr(VI)", "wavenumber": 961, "reflectance": 77.97},
      {"sample": "(EC-TPP-Cr(VI)", "wavenumber": 950, "reflectance": 80.27},
      {"sample": "(EC-TPP-Cr(VI)", "wavenumber": 939, "reflectance": 81.99},
      {"sample": "(EC-TPP-Cr(VI)", "wavenumber": 927, "reflectance": 83.33},
      {"sample": "(EC-TPP-Cr(VI)", "wavenumber": 914, "reflectance": 84.28},
      {"sample": "(EC-TPP-Cr(VI)", "wavenumber": 903, "reflectance": 84.95},
      {"sample": "(EC-TPP-Cr(VI)", "wavenumber": 891, "reflectance": 85.05},
      {"sample": "(EC-TPP-Cr(VI)", "wavenumber": 883, "reflectance": 86.00},
      {"sample": "(EC-TPP-Cr(VI)", "wavenumber": 875, "reflectance": 87.06},
      {"sample": "(EC-TPP-Cr(VI)", "wavenumber": 864, "reflectance": 87.92},
      {"sample": "(EC-TPP-Cr(VI)", "wavenumber": 850, "reflectance": 88.49},
      {"sample": "(EC-TPP-Cr(VI)", "wavenumber": 833, "reflectance": 89.16},
      {"sample": "(EC-TPP-Cr(VI)", "wavenumber": 811, "reflectance": 89.35},
      {"sample": "(EC-TPP-Cr(VI)", "wavenumber": 786, "reflectance": 89.22},
      {"sample": "(EC-TPP-Cr(VI)", "wavenumber": 769, "reflectance": 88.91},
      {"sample": "(EC-TPP-Cr(VI)", "wavenumber": 758, "reflectance": 88.11},
      {"sample": "(EC-TPP-Cr(VI)", "wavenumber": 744, "reflectance": 86.48},
      {"sample": "(EC-TPP-Cr(VI)", "wavenumber": 731, "reflectance": 86.10},
      {"sample": "(EC-TPP-Cr(VI)", "wavenumber": 720, "reflectance": 85.05},
      {"sample": "(EC-TPP-Cr(VI)", "wavenumber": 706, "reflectance": 83.81},
      {"sample": "(EC-TPP-Cr(VI)", "wavenumber": 692, "reflectance": 83.52},
      {"sample": "(EC-TPP-Cr(VI)", "wavenumber": 681, "reflectance": 82.37},
      {"sample": "(EC-TPP-Cr(VI)", "wavenumber": 670, "reflectance": 80.08},
      {"sample": "(EC-TPP-Cr(VI)", "wavenumber": 660, "reflectance": 76.73},
      {"sample": "(EC-TPP-Cr(VI)", "wavenumber": 653, "reflectance": 78.36},
      {"sample": "(EC-TPP-Cr(VI)", "wavenumber": 645, "reflectance": 79.12},
      {"sample": "(EC-TPP-Cr(VI)", "wavenumber": 636, "reflectance": 79.12},
      {"sample": "(EC-TPP-Cr(VI)", "wavenumber": 628, "reflectance": 77.78},
      {"sample": "(EC-TPP-Cr(VI)", "wavenumber": 617, "reflectance": 75.49},
      {"sample": "(EC-TPP-Cr(VI)", "wavenumber": 606, "reflectance": 73.77},
      {"sample": "(EC-TPP-Cr(VI)", "wavenumber": 589, "reflectance": 73.77},
      {"sample": "(EC-TPP-Cr(VI)", "wavenumber": 575, "reflectance": 73.81},
      {"sample": "(EC-TPP-Cr(VI)", "wavenumber": 567, "reflectance": 73.96},
      {"sample": "(EC-TPP-Cr(VI)", "wavenumber": 559, "reflectance": 71.66},
      {"sample": "(EC-TPP-Cr(VI)", "wavenumber": 553, "reflectance": 70.80},
      {"sample": "(EC-TPP-Cr(VI)", "wavenumber": 542, "reflectance": 71.38},
      {"sample": "(EC-TPP-Cr(VI)", "wavenumber": 534, "reflectance": 71.70},
      {"sample": "(EC-TPP-Cr(VI)", "wavenumber": 523, "reflectance": 71.28},
      {"sample": "(EC-TPP-Cr(VI)", "wavenumber": 513, "reflectance": 70.33},
      {"sample": "(EC-TPP-Cr(VI)", "wavenumber": 506, "reflectance": 71.57},
      {"sample": "(EC-TPP-Cr(VI)", "wavenumber": 489, "reflectance": 71.95},
      {"sample": "(EC-TPP-Cr(VI)", "wavenumber": 475, "reflectance": 72.14},
      {"sample": "(EC-TPP-Cr(VI)", "wavenumber": 467, "reflectance": 72.08},
      {"sample": "(EC-TPP-Cr(VI)", "wavenumber": 462, "reflectance": 73.04},
      {"sample": "(EC-TPP-Cr(VI)", "wavenumber": 456, "reflectance": 72.81},
      {"sample": "(EC-TPP-Cr(VI)", "wavenumber": 450, "reflectance": 72.62},
      {"sample": "(EC-TPP-Cr(VI)", "wavenumber": 445, "reflectance": 71.47},
      {"sample": "(EC-TPP-Cr(VI)", "wavenumber": 435, "reflectance": 69.94},
      {"sample": "(EC-TPP-Cr(VI)", "wavenumber": 428, "reflectance": 71.28},
      {"sample": "(EC-TPP-Cr(VI)", "wavenumber": 421, "reflectance": 71.24},
      {"sample": "(EC-TPP-Cr(VI)", "wavenumber": 415, "reflectance": 69.85},
      {"sample": "(EC-TPP-Cr(VI)", "wavenumber": 409, "reflectance": 70.90},
      {"sample": "(EC-TPP-Cr(VI)", "wavenumber": 403, "reflectance": 73.96},
      {"sample": "(EC-TPP-Cr(VI)", "wavenumber": 400, "reflectance": 77.02}
    ]
  },
  "layer": [
    {
      "data": {"name": "spectra"},
      "mark": {"type": "line", "strokeWidth": 3, "interpolate": "linear"},
      "encoding": {
        "x": {
          "field": "wavenumber", "type": "quantitative",
          "scale": {"domain": [400, 3998], "reverse": true, "nice": false, "zero": false},
          "axis": {
            "values": [3800, 3600, 3400, 3200, 3000, 2800, 2600, 2400, 2200, 2000, 1800, 1600, 1400, 1200, 1000, 800, 600, 400],
            "format": "d",
            "grid": false, "tickSize": -19, "tickWidth": 3, "tickColor": "#ff2b2b",
            "domainColor": "#3c3cff", "domainWidth": 3,
            "labelFont": "DejaVu Sans", "labelFontSize": 31, "labelColor": "#222222",
            "labelPadding": 31, "labelFlush": false, "labelOverlap": false,
            "title": "Wavenumber", "titleFont": "DejaVu Sans", "titleFontSize": 31,
            "titleFontWeight": "normal", "titleColor": "#222222",
            "titleY": 107, "titleBaseline": "alphabetic"
          }
        },
        "y": {
          "field": "reflectance", "type": "quantitative",
          "scale": {"domain": [63.1, 100.3], "nice": false, "zero": false},
          "axis": {
            "values": [65, 70, 75, 80, 85, 90, 95, 100],
            "format": "d",
            "grid": false, "tickSize": -23, "tickWidth": 3, "tickColor": "#ff2b2b",
            "domainColor": "#3c3cff", "domainWidth": 3,
            "labelFont": "DejaVu Sans", "labelFontSize": 31, "labelColor": "#222222",
            "labelPadding": 28, "labelFlush": false, "labelOverlap": false,
            "title": "Reflectance", "titleFont": "DejaVu Sans", "titleFontSize": 31,
            "titleFontWeight": "normal", "titleColor": "#222222",
            "titleX": -240, "titleY": 694, "titleAngle": -90,
            "titleAlign": "center", "titleBaseline": "middle"
          }
        },
        "color": {
          "field": "sample", "type": "nominal",
          "scale": {"domain": ["(EC-TPP)", "(EC-TPP-Cr(VI)"], "range": ["#ff8c1a", "#ff1a8c"]},
          "legend": {
            "title": null, "orient": "none", "direction": "vertical",
            "legendX": -224, "legendY": 1555, "padding": 0,
            "symbolType": "stroke", "symbolSize": 31329, "symbolStrokeWidth": 3,
            "labelFont": "Lato", "labelFontSize": 66, "labelColor": "#000000",
            "labelOffset": 36, "labelLimit": 0, "rowPadding": 24,
            "encode": {
              "symbols": {"update": {"stroke": {"signal": "datum.value === '(EC-TPP)' ? '#f2914a' : '#e23ccf'"}}}
            }
          }
        }
      }
    },
    {
      "data": {"name": "notes"},
      "mark": {"type": "text", "font": "Lato", "fontSize": 65, "color": "#262626", "align": "center", "baseline": "middle"},
      "encoding": {
        "x": {
          "field": "wavenumber", "type": "quantitative",
          "axis": {
            "orient": "bottom",
            "values": [3960, 3920, 3880, 3840, 3760, 3720, 3680, 3640, 3560, 3520, 3480, 3440, 3360, 3320, 3280, 3240, 3160, 3120, 3080, 3040, 2960, 2920, 2880, 2840, 2760, 2720, 2680, 2640, 2560, 2520, 2480, 2440, 2360, 2320, 2280, 2240, 2160, 2120, 2080, 2040, 1960, 1920, 1880, 1840, 1760, 1720, 1680, 1640, 1560, 1520, 1480, 1440, 1360, 1320, 1280, 1240, 1160, 1120, 1080, 1040, 960, 920, 880, 840, 760, 720, 680, 640, 560, 520, 480, 440],
            "grid": false, "domain": false, "labels": false, "title": null,
            "tickSize": -10, "tickWidth": 3, "tickColor": "#ff2b2b"
          }
        },
        "y": {
          "field": "reflectance", "type": "quantitative",
          "axis": {
            "orient": "right", "grid": false, "ticks": false, "labels": false, "title": null,
            "domain": true, "domainColor": "#3c3cff", "domainWidth": 3
          }
        },
        "text": {"field": "label", "type": "nominal"}
      }
    }
  ],
  "resolve": {"axis": {"x": "independent", "y": "independent"}}
}
